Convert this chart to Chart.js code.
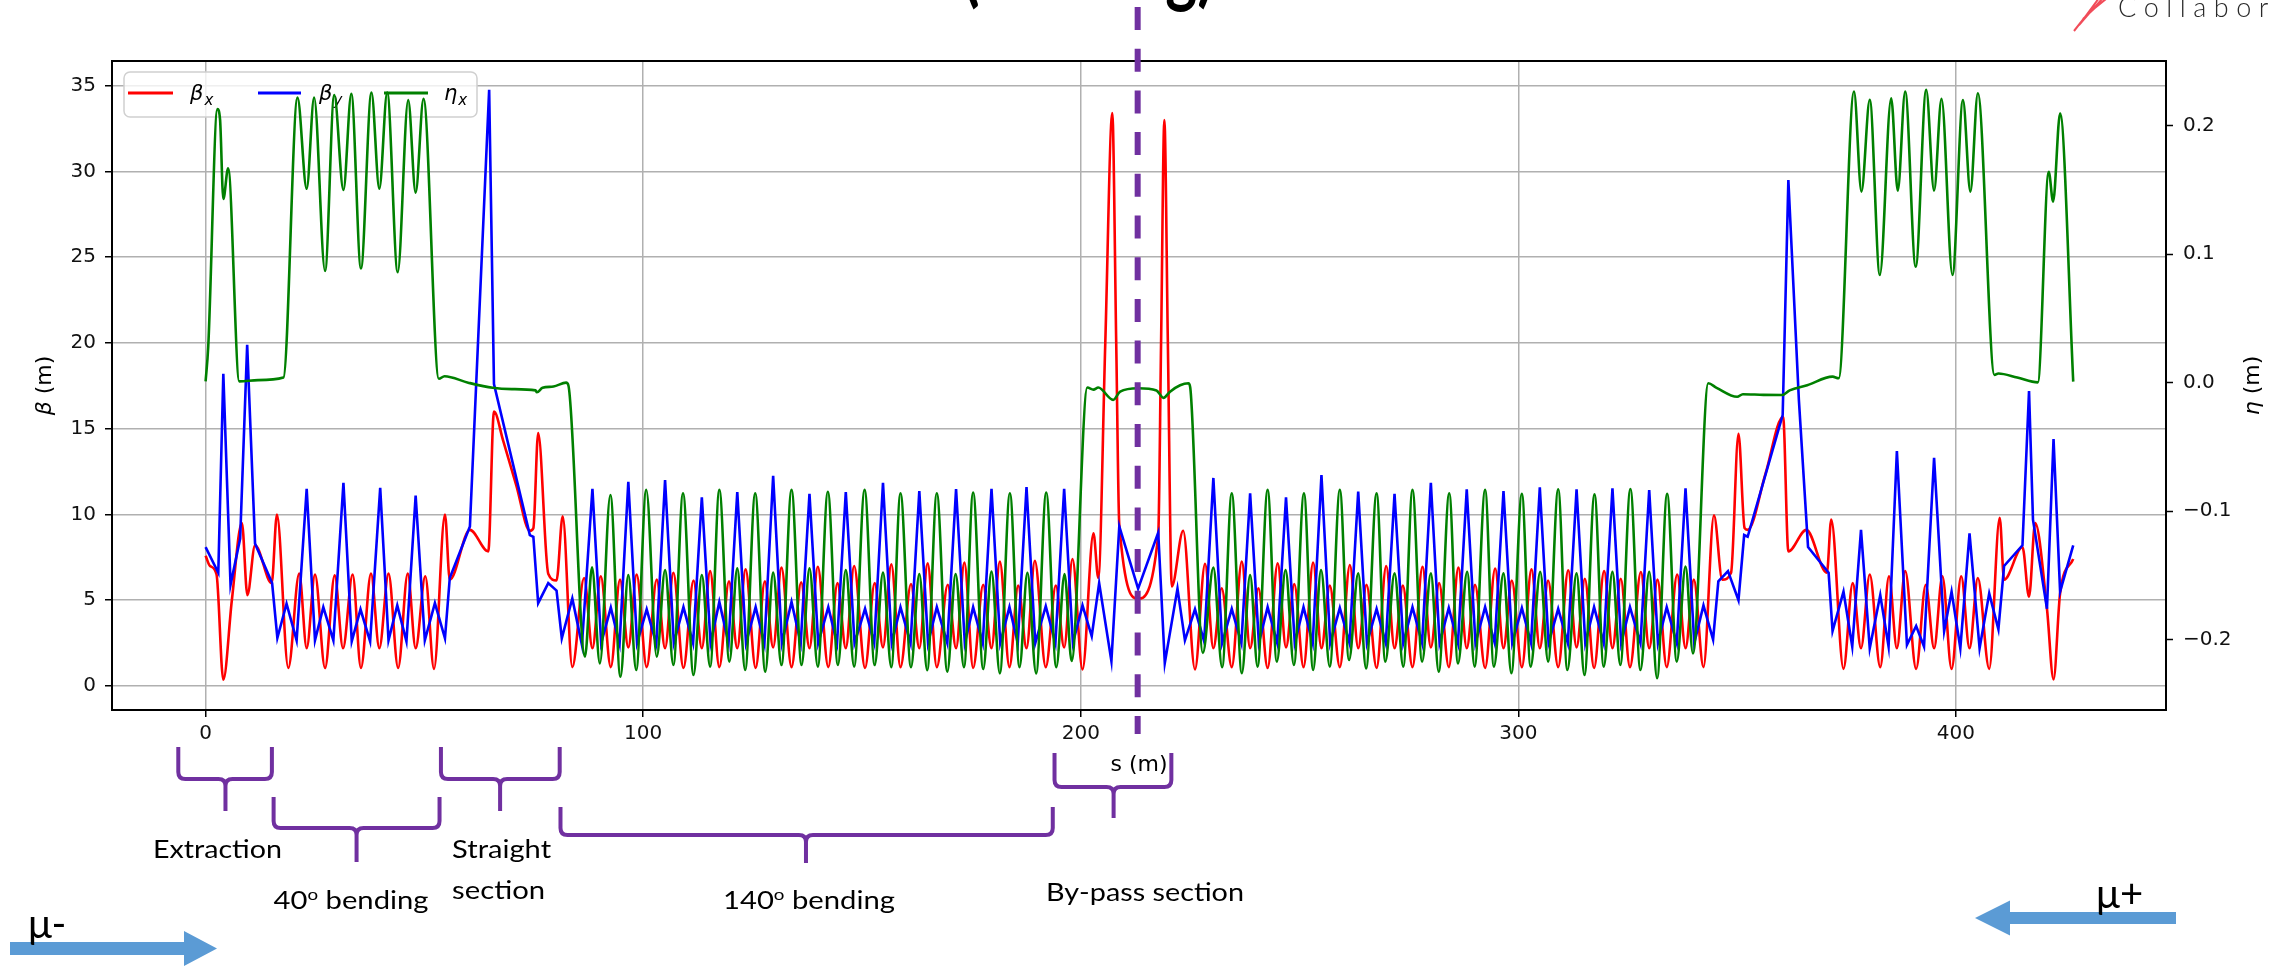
<!DOCTYPE html>
<html>
<head>
<meta charset="utf-8">
<script src="https://cdn.jsdelivr.net/npm/chart.js@4.4.1/dist/chart.umd.min.js"></script>
<style>
  html, body { margin: 0; padding: 0; background: #fff; }
  #lattice { display: block; }
</style>
</head>
<body>
<canvas id="lattice" width="2285" height="966"></canvas>
<script>
// Twiss functions along the transfer line, [s (m), value]
const betaXPoints = [
  [0,7.6],[1.0,7.0],[2.5,6.5],[4.05,0.36],[6.0,5.0],[8.3,9.5],[9.55,5.3],[11.3,8.2],[15.1,6.0],[16.3,10.0],
  [18.9,1.05],[21.4,6.55],[23.1,2.2],[25.0,6.5],[27.3,1.05],[29.5,6.45],[31.4,2.2],[33.6,6.5],[35.5,1.05],[37.8,6.55],
  [39.7,2.2],[41.8,6.55],[44.0,1.05],[46.2,6.55],[48.0,2.2],[50.2,6.4],[52.2,1.0],[54.7,10.0],
  [55.8,6.2],[60.4,9.1],[64.6,7.85],[65.9,16.0],[68.0,14.3],[71.0,11.7],[74.1,9.05],[74.9,9.2],[76.0,14.75],
  [78.3,6.55],[80.2,6.15],[81.6,9.9],[83.8,1.1],
  [86.5,6.3],[88.4,2.2],[90.3,6.4],[92.6,1.1],[94.7,6.2],[96.6,2.25],[98.5,6.5],[100.8,1.1],
  [103.1,6.2],[105.0,2.2],[106.9,6.6],[109.2,1.05],[111.5,6.15],[113.4,2.2],[115.3,6.7],[117.4,1.1],
  [119.6,6.1],[121.5,2.2],[123.4,6.8],[125.7,1.05],[127.8,6.1],[129.7,2.25],[131.6,6.9],[133.9,1.1],
  [136.1,6.05],[138.0,2.2],[139.9,6.95],[142.3,1.1],[144.4,6.0],[146.3,2.2],[148.2,7.0],[150.7,1.05],
  [152.9,6.0],[154.8,2.25],[156.7,7.1],[158.8,1.1],[161.2,5.95],[163.1,2.2],[165.0,7.15],[167.1,1.1],
  [169.6,5.9],[171.5,2.2],[173.4,7.2],[175.4,1.05],[177.7,5.9],[179.6,2.2],[181.5,7.25],[183.7,1.1],
  [185.7,5.85],[187.6,2.2],[189.5,7.3],[192.0,1.1],[194.3,5.85],[196.2,2.25],[198.1,7.4],[200.4,0.97],
  [202.9,8.9],[204.0,6.3],[205.6,20.0],[207.2,33.4],[208.1,20.0],[208.8,9.4],[213.1,5.1],[217.7,8.8],
  [218.35,20.0],[219.1,33.0],[219.9,20.0],[220.8,5.8],[223.4,9.05],[226.1,0.97],
  [228.4,7.13],[230.3,2.2],[232.2,5.7],[234.5,1.1],[236.8,7.25],[238.7,2.2],[240.6,5.7],[242.7,1.05],
  [245.0,7.15],[246.9,2.25],[248.8,5.95],[250.9,1.1],[253.1,7.2],[255.0,2.2],[256.9,5.85],[259.2,1.1],
  [261.5,7.05],[263.4,2.2],[265.3,5.9],[267.6,1.05],[269.8,7.0],[271.7,2.2],[273.6,5.85],[275.8,1.1],
  [278.1,6.95],[280.0,2.25],[281.9,6.0],[284.1,1.1],[286.3,6.9],[288.2,2.2],[290.1,5.9],[292.4,1.05],
  [294.7,6.85],[296.6,2.2],[298.5,6.15],[300.8,1.1],[303.0,6.8],[304.9,2.2],[306.8,6.15],[309.1,1.1],
  [311.4,6.75],[313.3,2.25],[315.2,6.25],[317.3,1.05],[319.6,6.7],[321.5,2.2],[323.4,6.25],[325.5,1.1],
  [328.0,6.65],[329.9,2.2],[331.8,6.2],[333.9,1.1],[336.3,6.5],[338.2,2.2],[340.1,6.2],[342.3,1.1],
  [344.7,9.95],[346.6,6.2],[348.6,6.6],[350.3,14.7],[351.7,9.2],[352.4,9.1],[356.5,12.4],[360.5,15.7],
  [361.7,7.85],[365.8,9.1],[370.5,6.6],[371.5,9.7],[374.3,1.0],
  [376.4,6.0],[378.3,2.2],[380.3,6.5],[382.7,1.1],[384.7,6.4],[386.5,2.2],[388.4,6.7],[390.9,1.0],
  [393.1,5.9],[395.0,2.2],[396.9,6.4],[399.0,1.0],[401.2,6.4],[403.1,2.2],[405.0,6.3],[407.6,1.0],
  [410.0,9.8],[411.0,6.2],[415.2,8.1],[416.7,5.2],[418.1,9.5],[420.8,4.5],[422.3,0.38],[423.8,5.4],[426.8,7.4]
];

const betaYPoints = [
  [0,8.1],[2.9,6.6],[4.05,18.2],[5.7,5.9],[7.9,8.6],[9.5,19.9],[11.3,8.3],[15.2,6.0],[16.4,2.8],
  [18.5,4.8],[20.8,2.66],[23.1,11.5],[25.0,2.66],[26.9,4.6],[29.2,2.66],[31.5,11.85],[33.4,2.6],[35.4,4.47],
  [37.6,2.6],[39.9,11.55],[41.8,2.66],[43.8,4.7],[45.9,2.6],[48.0,11.1],[50.1,2.66],[52.4,4.83],[54.7,2.78],
  [55.8,6.3],[60.4,9.3],[64.8,34.76],[65.9,17.6],[74.1,8.8],[74.9,8.7],[76.0,4.83],[78.3,6.0],[80.2,5.56],
  [81.4,2.78],[83.8,5.1],[86.0,2.4],
  [88.4,11.5],[90.4,2.5],[92.6,4.57],[94.6,2.45],[96.6,11.9],[98.6,2.5],[100.8,4.47],[103.0,2.45],
  [105.0,12.0],[107.0,2.5],[109.2,4.6],[111.4,2.5],[113.4,11.0],[115.4,2.5],[117.4,4.9],[119.5,2.5],
  [121.5,11.3],[123.5,2.5],[125.7,4.6],[127.7,2.45],[129.7,12.26],[131.7,2.5],[133.9,4.9],[136.0,2.5],
  [138.0,11.2],[140.0,2.5],[142.3,4.6],[144.3,2.5],[146.3,11.3],[148.3,2.5],[150.7,4.5],[152.8,2.5],
  [154.8,11.85],[156.8,2.5],[158.8,4.6],[161.1,2.5],[163.1,11.36],[165.1,2.5],[167.1,4.6],[169.5,2.5],
  [171.5,11.48],[173.5,2.5],[175.4,4.6],[177.6,2.5],[179.6,11.5],[181.6,2.5],[183.7,4.6],[185.6,2.5],
  [187.6,11.6],[189.6,2.5],[192.0,4.65],[194.2,2.5],[196.2,11.5],[198.2,2.5],[200.4,4.7],
  [202.5,2.9],[204.2,6.0],[207.0,1.45],[208.8,9.3],[213.1,5.68],[217.7,8.94],[219.2,1.33],[222.1,5.68],
  [223.8,2.66],[226.1,4.47],[228.2,2.6],
  [230.3,12.13],[232.3,2.5],[234.5,4.5],[236.7,2.5],[238.7,11.23],[240.7,2.5],[242.7,4.6],[244.9,2.5],
  [246.9,11.0],[248.9,2.5],[250.9,4.6],[253.0,2.5],[255.0,12.3],[257.0,2.5],[259.2,4.55],[261.4,2.5],
  [263.4,11.33],[265.4,2.5],[267.6,4.5],[269.7,2.5],[271.7,11.2],[273.7,2.5],[275.8,4.6],[278.0,2.5],
  [280.0,11.85],[282.0,2.5],[284.1,4.55],[286.2,2.5],[288.2,11.47],[290.2,2.5],[292.4,4.6],[294.6,2.5],
  [296.6,11.37],[298.6,2.5],[300.8,4.55],[302.9,2.5],[304.9,11.58],[306.9,2.5],[309.1,4.5],[311.3,2.5],
  [313.3,11.47],[315.3,2.5],[317.3,4.6],[319.5,2.5],[321.5,11.52],[323.5,2.5],[325.5,4.6],[327.9,2.5],
  [329.9,11.43],[331.9,2.5],[333.9,4.6],[336.2,2.5],[338.2,11.52],[340.2,2.5],[342.3,4.7],
  [344.5,2.7],[345.7,6.1],[347.9,6.7],[350.3,5.0],[351.6,8.8],[352.4,8.7],[360.4,15.8],[361.7,29.5],
  [364.1,16.7],[366.2,8.1],[370.9,6.6],[371.8,3.2],[374.3,5.5],[376.3,2.3],[378.3,9.1],[380.3,2.2],
  [382.7,5.3],[384.6,2.3],[386.5,13.7],[388.8,2.4],[390.9,3.5],[392.7,2.3],[395.0,13.3],[397.3,3.2],
  [399.0,5.5],[401.0,2.2],[403.1,8.9],[405.4,2.2],[407.6,5.4],[409.7,3.3],[411.0,7.0],[415.2,8.2],
  [416.7,17.2],[417.6,9.7],[420.8,4.5],[422.3,14.4],[423.8,5.5],[426.8,8.2]
];

const etaXPoints = [
  [0,0.001],[0.6,0.028],[2.7,0.213],[3.3,0.205],[4.05,0.143],[5.15,0.167],[7.7,0.001],[12.0,0.002],[17.8,0.004],
  [21.0,0.222],[23.1,0.151],[24.8,0.222],[27.3,0.087],[29.4,0.224],[31.5,0.150],[33.3,0.225],[35.5,0.089],
  [37.9,0.226],[39.7,0.151],[41.5,0.226],[43.9,0.086],[46.3,0.220],[48.0,0.148],[49.8,0.221],[53.3,0.003],
  [54.6,0.005],[60.0,0.000],[65.6,-0.004],[70.0,-0.005],[75.4,-0.006],[75.7,-0.0075],[77.0,-0.004],
  [79.5,-0.003],[82.4,0.000],[82.9,-0.002],
  [86.7,-0.2134],[88.3,-0.1438],[90.1,-0.2186],[92.5,-0.0875],[94.8,-0.2290],[96.6,-0.1498],[98.4,-0.2238],
  [100.7,-0.0835],[103.1,-0.2134],[105.0,-0.1459],[106.9,-0.2199],[109.1,-0.0862],[111.5,-0.2277],
  [113.4,-0.1498],[115.3,-0.2211],[117.4,-0.0835],[119.7,-0.2172],[121.5,-0.1446],[123.3,-0.2238],
  [125.6,-0.0862],[127.9,-0.2251],[129.7,-0.1479],[131.6,-0.2199],[133.9,-0.0835],[136.2,-0.2199],
  [138.0,-0.1446],[139.9,-0.2211],[142.2,-0.0849],[144.5,-0.2199],[146.3,-0.1459],[148.2,-0.2211],
  [150.6,-0.0835],[152.9,-0.2199],[154.8,-0.1479],[156.7,-0.2216],[158.8,-0.0861],[161.2,-0.2216],
  [163.1,-0.1490],[164.9,-0.2240],[167.1,-0.0861],[169.5,-0.2250],[171.4,-0.1490],[173.3,-0.2216],
  [175.4,-0.0855],[177.7,-0.2230],[179.6,-0.1470],[181.5,-0.2264],[183.8,-0.0861],[186.0,-0.2216],
  [187.8,-0.1480],[189.8,-0.2264],[192.1,-0.0855],[194.4,-0.2216],[196.3,-0.1490],[197.9,-0.2168],
  [201.5,-0.0038],[202.9,-0.0054],[204.0,-0.0038],[207.4,-0.0134],[209.0,-0.0070],[213.1,-0.0043],
  [217.3,-0.0061],[218.9,-0.0118],[220.4,-0.0070],[222.7,-0.0020],[224.6,-0.0005],[225.0,-0.0035],
  [227.9,-0.2104],[230.3,-0.1440],[232.3,-0.2216],[234.5,-0.0862],[236.8,-0.2263],[238.7,-0.1498],
  [240.4,-0.2211],[242.7,-0.0835],[244.8,-0.2172],[246.8,-0.1459],[248.7,-0.2199],[251.0,-0.0862],
  [253.1,-0.2238],[254.9,-0.1459],[256.9,-0.2211],[259.2,-0.0835],[261.3,-0.2160],[263.4,-0.1485],
  [265.2,-0.2225],[267.6,-0.0862],[269.6,-0.2172],[271.7,-0.1485],[273.7,-0.2211],[275.8,-0.0835],
  [278.0,-0.2172],[280.0,-0.1485],[281.8,-0.2251],[284.2,-0.0862],[286.2,-0.2186],[288.3,-0.1472],
  [290.0,-0.2211],[292.4,-0.0835],[294.4,-0.2211],[296.6,-0.1485],[298.4,-0.2263],[300.8,-0.0866],
  [302.8,-0.2211],[305.0,-0.1472],[306.8,-0.2172],[309.1,-0.0830],[311.2,-0.2238],[313.3,-0.1485],
  [315.1,-0.2277],[317.4,-0.0870],[319.5,-0.2211],[321.5,-0.1472],[323.3,-0.2199],[325.6,-0.0828],
  [327.9,-0.2238],[329.9,-0.1472],[331.7,-0.2302],[334.0,-0.0866],[336.2,-0.2172],[338.2,-0.1432],
  [339.9,-0.2108],
  [343.4,-0.0005],[345.3,-0.004],[350.0,-0.011],[351.3,-0.009],[356.0,-0.0095],[360.3,-0.0096],
  [362.0,-0.006],[366.0,-0.002],[371.8,0.0047],[373.2,0.0034],
  [376.7,0.2267],[378.4,0.1488],[380.3,0.2202],[382.6,0.0839],[385.2,0.2215],[386.7,0.1496],[388.4,0.2267],
  [390.8,0.0903],[393.2,0.228],[395.0,0.1496],[396.7,0.221],[399.2,0.0839],[401.6,0.220],[403.3,0.1488],
  [405.0,0.2254],[408.8,0.006],[409.7,0.0072],[414.0,0.004],[418.7,0.0002],[421.2,0.1643],[422.2,0.141],
  [423.8,0.2098],[426.8,0.0008]
];

const sTicks = [0, 100, 200, 300, 400];
const betaTicks = [0, 5, 10, 15, 20, 25, 30, 35];
const etaTicks = [-0.2, -0.1, 0.0, 0.1, 0.2];

// line sections marked under the s axis
const sectionFrom = [-6.24, 15.54, 53.78, 81.1, 194.0];
const sectionTo = [15.15, 53.46, 80.92, 193.6, 220.7];
const sectionTip = [4.54, 34.5, 67.3, 137.2, 207.5];
const symmetryS = 213.0;

const PURPLE = '#7030a0';
const ARROW = '#5b9bd5';

function toXY(points) {
  return points.map(p => ({ x: p[0], y: p[1] }));
}

function drawBrace(ctx, x0, x1, xc, yTop, yMid, yTip) {
  const r = 7;
  ctx.beginPath();
  ctx.moveTo(x0, yTop);
  ctx.lineTo(x0, yMid - r);
  ctx.quadraticCurveTo(x0, yMid, x0 + r, yMid);
  ctx.lineTo(xc - r, yMid);
  ctx.quadraticCurveTo(xc, yMid, xc, yMid + r);
  ctx.lineTo(xc, yTip);
  ctx.moveTo(xc, yMid + r);
  ctx.quadraticCurveTo(xc, yMid, xc + r, yMid);
  ctx.lineTo(x1 - r, yMid);
  ctx.quadraticCurveTo(x1, yMid, x1, yMid - r);
  ctx.lineTo(x1, yTop);
  ctx.stroke();
}

// text runs [text, superscript], stretched to a given width
function drawRuns(ctx, runs, x, y, width, size) {
  const fonts = runs.map(r => (r[1] ? Math.round(size * 0.62) : size) + 'px Lato, "Noto Sans", sans-serif');
  let total = 0;
  const widths = runs.map((r, i) => {
    ctx.font = fonts[i];
    const w = ctx.measureText(r[0]).width;
    total += w;
    return w;
  });
  const k = width ? width / total : 1;
  ctx.save();
  ctx.translate(x, y);
  ctx.scale(k, 1);
  let cx = 0;
  runs.forEach((r, i) => {
    ctx.font = fonts[i];
    ctx.fillText(r[0], cx, r[1] ? -size * 0.36 : 0);
    cx += widths[i];
  });
  ctx.restore();
}

function drawArrow(ctx, xTail, xTip, yc, bodyHalf, headHalf, headLen) {
  const dir = Math.sign(xTip - xTail);
  const xBase = xTip - dir * headLen;
  ctx.beginPath();
  ctx.moveTo(xTail, yc - bodyHalf);
  ctx.lineTo(xBase, yc - bodyHalf);
  ctx.lineTo(xBase, yc - headHalf);
  ctx.lineTo(xTip, yc);
  ctx.lineTo(xBase, yc + headHalf);
  ctx.lineTo(xBase, yc + bodyHalf);
  ctx.lineTo(xTail, yc + bodyHalf);
  ctx.closePath();
  ctx.fill();
}

// symbol plus italic subscript, e.g. beta_x
function drawMathLabel(ctx, label, x, y, size) {
  ctx.font = 'italic ' + size + 'px "DejaVu Sans"';
  ctx.fillText(label[0], x, y);
  const w = ctx.measureText(label[0]).width;
  ctx.font = 'italic ' + Math.round(size * 0.7) + 'px "DejaVu Sans"';
  ctx.fillText(label.slice(1), x + w + 1, y + size * 0.22);
}

function drawLegend(chart) {
  const ctx = chart.ctx;
  const entries = [[128, 173, 190], [258, 301, 319], [384, 428, 444]];
  ctx.save();
  ctx.beginPath();
  ctx.roundRect(124, 72, 353, 45, 6);
  ctx.fillStyle = 'rgba(255,255,255,0.8)';
  ctx.fill();
  ctx.strokeStyle = '#d0d0d0';
  ctx.lineWidth = 1.5;
  ctx.stroke();
  chart.data.datasets.forEach((ds, i) => {
    const e = entries[i];
    ctx.strokeStyle = ds.borderColor;
    ctx.lineWidth = 3;
    ctx.beginPath();
    ctx.moveTo(e[0], 93);
    ctx.lineTo(e[1], 93);
    ctx.stroke();
    ctx.fillStyle = '#000';
    ctx.textBaseline = 'alphabetic';
    ctx.textAlign = 'left';
    drawMathLabel(ctx, ds.label, e[2], 100, 21);
  });
  ctx.restore();
}

function drawAxisTitle(ctx, symbol, x, y, rotate) {
  ctx.save();
  ctx.translate(x, y);
  if (rotate) ctx.rotate(-Math.PI / 2);
  ctx.textBaseline = 'middle';
  ctx.textAlign = 'left';
  ctx.font = 'italic 22px "DejaVu Sans"';
  const w1 = ctx.measureText(symbol).width;
  ctx.font = '22px "DejaVu Sans"';
  const w2 = ctx.measureText(' (m)').width;
  const x0 = -(w1 + w2) / 2;
  ctx.font = 'italic 22px "DejaVu Sans"';
  ctx.fillText(symbol, x0, 0);
  ctx.font = '22px "DejaVu Sans"';
  ctx.fillText(' (m)', x0 + w1, 0);
  ctx.restore();
}

const sectionLabels = [
  { lines: [[['Extraction', false]]], dx: -72.5, base: [858], width: [129] },
  { lines: [[['40', false], ['o', true], [' bending', false]]], dx: -83, base: [909], width: [155] },
  { lines: [[['Straight', false]], [['section', false]]], dx: -48, base: [858, 899], width: [99, 93] },
  { lines: [[['140', false], ['o', true], [' bending', false]]], dx: -83, base: [909], width: [172] },
  { lines: [[['By-pass section', false]]], dx: -67.6, base: [901], width: [198] }
];
const braceLevels = [[747, 779, 811], [797, 828, 862], [747, 779, 811], [807, 835, 863], [753, 787, 818]];

const overlay = {
  id: 'overlay',
  beforeDatasetDraw(chart, args) {
    // the dispersion curve sits on the twin axis, above the legend box
    if (args.index === 2) drawLegend(chart);
  },
  afterDatasetsDraw(chart) {
    const { ctx, chartArea: a } = chart;
    ctx.save();
    ctx.strokeStyle = '#000';
    ctx.lineWidth = 2;
    ctx.strokeRect(a.left, a.top, a.right - a.left, a.bottom - a.top);
    ctx.restore();
  },
  afterDraw(chart) {
    const ctx = chart.ctx;
    const xs = chart.scales.x;
    const a = chart.chartArea;
    ctx.save();

    // axis titles
    ctx.fillStyle = '#000';
    drawAxisTitle(ctx, 'β', 45, (a.top + a.bottom) / 2, true);
    drawAxisTitle(ctx, 'η', 2253, (a.top + a.bottom) / 2, true);
    ctx.save();
    ctx.font = '22px "DejaVu Sans"';
    ctx.textAlign = 'center';
    ctx.textBaseline = 'middle';
    ctx.fillText('s (m)', (a.left + a.right) / 2, 765);
    ctx.restore();

    // section braces and names
    ctx.strokeStyle = PURPLE;
    ctx.lineWidth = 4;
    ctx.lineCap = 'butt';
    ctx.lineJoin = 'round';
    sectionFrom.forEach((from, i) => {
      const lv = braceLevels[i];
      const xc = xs.getPixelForValue(sectionTip[i]);
      drawBrace(ctx, xs.getPixelForValue(from), xs.getPixelForValue(sectionTo[i]), xc, lv[0], lv[1], lv[2]);
      const lab = sectionLabels[i];
      ctx.fillStyle = '#000';
      ctx.textAlign = 'left';
      ctx.textBaseline = 'alphabetic';
      lab.lines.forEach((runs, j) => drawRuns(ctx, runs, xc + lab.dx, lab.base[j], lab.width[j], 25));
    });

    // symmetry point of the line
    const xm = xs.getPixelForValue(symmetryS);
    ctx.strokeStyle = PURPLE;
    ctx.lineWidth = 6;
    ctx.setLineDash([23, 18.7]);
    ctx.beginPath();
    ctx.moveTo(xm, 7);
    ctx.lineTo(xm, 734);
    ctx.stroke();
    ctx.setLineDash([]);

    // beam directions
    ctx.fillStyle = ARROW;
    drawArrow(ctx, 10, 217, 948.5, 6.5, 17.5, 33);
    drawArrow(ctx, 2176, 1975, 918, 6, 17.5, 35);
    ctx.fillStyle = '#000';
    ctx.font = '40px Lato, "Noto Sans", sans-serif';
    ctx.textAlign = 'left';
    ctx.textBaseline = 'alphabetic';
    ctx.fillText('\u03bc-', 28, 938);
    ctx.fillText('\u03bc+', 2096, 908);

    // page heading, only its lower edge shows below the top border
    ctx.textBaseline = 'alphabetic';
    ctx.font = 'bold 78px Lato, "Noto Sans", sans-serif';
    const head = '(bending)';
    const hw = ctx.measureText(head).width;
    ctx.save();
    ctx.translate(963, -3);
    ctx.scale(251 / hw, 1);
    ctx.fillText(head, 0, 0);
    ctx.restore();

    // collaboration mark
    ctx.strokeStyle = 'rgba(238,45,60,0.85)';
    ctx.lineWidth = 2;
    ctx.beginPath();
    ctx.moveTo(2074, 31); ctx.quadraticCurveTo(2087, 15, 2099, -2);
    ctx.moveTo(2079, 25); ctx.quadraticCurveTo(2091, 11, 2103, -2);
    ctx.moveTo(2083, 19); ctx.quadraticCurveTo(2094, 8, 2106, -1);
    ctx.stroke();
    ctx.fillStyle = '#2a2a2a';
    ctx.font = '300 27px Lato, "Noto Sans", sans-serif';
    let lx = 2118;
    for (const ch of 'Collabor') {
      ctx.fillText(ch, lx, 17);
      lx += ctx.measureText(ch).width + 7.5;
    }

    ctx.restore();
  }
};

const tickFont = { family: 'DejaVu Sans', size: 20 };

new Chart(document.getElementById('lattice'), {
  type: 'line',
  data: {
    datasets: [
      { label: 'βx', data: toXY(betaXPoints), borderColor: '#ff0000', borderWidth: 2.6,
        pointRadius: 0, cubicInterpolationMode: 'monotone', yAxisID: 'y', order: 2 },
      { label: 'βy', data: toXY(betaYPoints), borderColor: '#0000ff', borderWidth: 2.6,
        pointRadius: 0, tension: 0, yAxisID: 'y', order: 1 },
      { label: 'ηx', data: toXY(etaXPoints), borderColor: '#008000', borderWidth: 2.6,
        pointRadius: 0, cubicInterpolationMode: 'monotone', yAxisID: 'y1', order: 0 }
    ]
  },
  options: {
    responsive: false,
    animation: false,
    devicePixelRatio: 1,
    layout: { padding: { top: 61, left: 0, right: 0, bottom: 0 } },
    plugins: { legend: { display: false }, tooltip: { enabled: false } },
    scales: {
      x: {
        type: 'linear', min: -21.39, max: 448.0,
        afterFit: s => { s.height = 256; },
        afterBuildTicks: s => { s.ticks = sTicks.map(v => ({ value: v })); },
        border: { display: false },
        grid: { color: '#b0b0b0', lineWidth: 1.5, drawTicks: true, tickLength: 7, tickColor: '#000', tickWidth: 1.5 },
        ticks: { font: tickFont, color: '#111', padding: 5, maxRotation: 0, callback: v => String(v) }
      },
      y: {
        type: 'linear', position: 'left', min: -1.40, max: 36.44,
        afterFit: s => { s.width = 112; },
        afterBuildTicks: s => { s.ticks = betaTicks.map(v => ({ value: v })); },
        border: { display: false },
        grid: { color: '#b0b0b0', lineWidth: 1.5, drawTicks: true, tickLength: 7, tickColor: '#000', tickWidth: 1.5 },
        ticks: { font: tickFont, color: '#111', padding: 9, callback: v => String(v) }
      },
      y1: {
        type: 'linear', position: 'right', min: -0.2549, max: 0.2505,
        afterFit: s => { s.width = 119; },
        afterBuildTicks: s => { s.ticks = etaTicks.map(v => ({ value: v })); },
        border: { display: false },
        grid: { drawOnChartArea: false, drawTicks: true, tickLength: 7, tickColor: '#000', tickWidth: 1.5 },
        ticks: {
          font: tickFont, color: '#111', padding: 10,
          callback: v => (v < 0 ? '\u2212' : '') + Math.abs(v).toFixed(1)
        }
      }
    }
  },
  plugins: [overlay]
});
</script>
</body>
</html>
